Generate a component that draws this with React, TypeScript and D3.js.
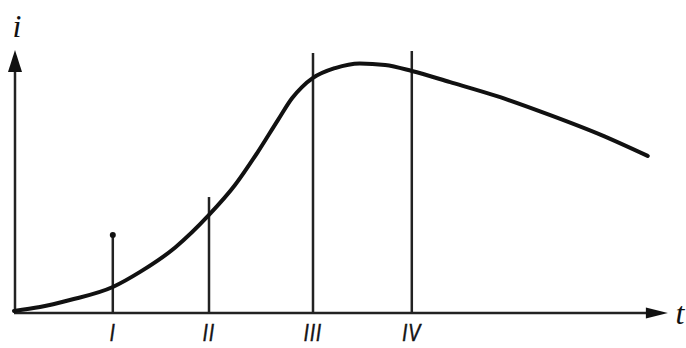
import React from "react";
import * as d3 from "d3";

// curve i(t) (t in arbitrary units 0..10, i normalised 0..1)
const curveT = [0, 0.4, 0.86, 1.52, 1.94, 2.48, 3.0, 3.4, 3.75, 4.06, 4.28, 4.43, 4.6, 4.94, 5.32, 5.71, 6.12, 6.71, 7.48, 8.25, 9.02, 9.75];
const curveI = [0.008, 0.023, 0.05, 0.1, 0.158, 0.252, 0.377, 0.492, 0.619, 0.742, 0.827, 0.869, 0.904, 0.942, 0.96, 0.954, 0.931, 0.888, 0.83, 0.761, 0.686, 0.604];

// vertical markers
const markerLabels = ["I", "II", "III", "IV"];
const markerT = [1.52, 3.0, 4.6, 6.12];
const markerTop = [0.3, 0.446, 1.0, 1.008];

const W = 686;
const H = 348;

export default function App() {
  const x = d3.scaleLinear().domain([0, 10]).range([14, 664]);
  const y = d3.scaleLinear().domain([0, 1]).range([313, 53]);

  const pts: [number, number][] = curveT.map((t, k) => [t, curveI[k]]);
  const line = d3
    .line<[number, number]>()
    .x((d) => x(d[0]))
    .y((d) => y(d[1]))
    .curve(d3.curveMonotoneX);

  const x0 = x(0);
  const y0 = y(0);
  const xEnd = x(10.06);
  const yEnd = y(1.012);
  const labelY = 341;

  return (
    <svg
      width={W}
      height={H}
      style={{ position: "absolute", left: 0, top: 0, background: "#fff" }}
    >
      {/* axes */}
      <line x1={x0} y1={y0} x2={xEnd - 10} y2={y0} stroke="#222" strokeWidth={2.5} />
      <line x1={x0 + 1} y1={y0} x2={x0 + 1} y2={yEnd + 10} stroke="#222" strokeWidth={2.5} />
      <path
        d={`M${xEnd},${y0} L${xEnd - 22},${y0 - 5.5} L${xEnd - 22},${y0 + 5.5} Z`}
        fill="#111"
      />
      <path
        d={`M${x0 + 1},${yEnd} L${x0 - 6},${yEnd + 22} L${x0 + 8},${yEnd + 22} Z`}
        fill="#111"
      />
      <text x={x0 + 3} y={37} fontFamily="Liberation Serif" fontStyle="italic" fontSize={32} textAnchor="middle" fill="#111">
        i
      </text>
      <text x={xEnd + 12} y={324} fontFamily="Liberation Serif" fontStyle="italic" fontSize={32} textAnchor="middle" fill="#111">
        t
      </text>

      {/* markers */}
      {markerT.map((t, k) => (
        <g key={markerLabels[k]}>
          <line x1={x(t)} y1={y0} x2={x(t)} y2={y(markerTop[k])} stroke="#222" strokeWidth={2.5} />
          <text
            x={x(t)}
            y={labelY}
            fontFamily="Liberation Sans"
            fontStyle="italic"
            fontSize={24}
            letterSpacing={1.5}
            textAnchor="middle"
            fill="#111"
            stroke="#111"
            strokeWidth={0.6}
            transform={`translate(${x(t)},${labelY}) scale(0.75,1) translate(${-x(t)},${-labelY})`}
          >
            {markerLabels[k]}
          </text>
        </g>
      ))}
      <circle cx={x(markerT[0])} cy={y(markerTop[0])} r={3} fill="#111" />

      {/* curve */}
      <path d={line(pts) || ""} fill="none" stroke="#111" strokeWidth={4} strokeLinecap="round" />
    </svg>
  );
}
